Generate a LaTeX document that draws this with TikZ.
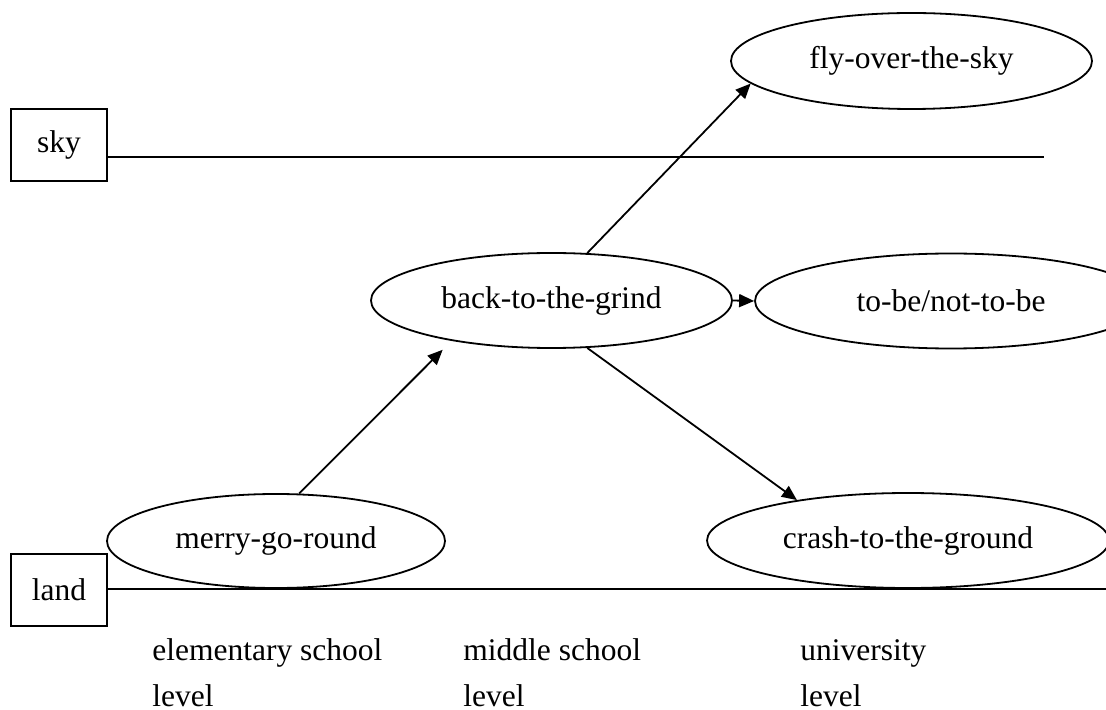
\documentclass[tikz,border=0pt]{standalone}
\usepackage{fontspec}
\setmainfont{Liberation Serif}
\usetikzlibrary{shapes.geometric,arrows.meta}
\tikzset{
	stage/.style={draw,ellipse,inner sep=0pt,line width=0.9pt},
	ground/.style={draw,rectangle,inner sep=0pt,minimum width=48pt,minimum height=36pt,line width=0.9pt},
	risearrow/.style={line width=0.9pt,-{Triangle[length=7.5pt,width=6.5pt]}},
}
\begin{document}
\begin{tikzpicture}[x=0.5pt,y=-0.5pt,font=\fontsize{15.75}{23}\selectfont]
	\useasboundingbox (0,0) rectangle (1106,710);
	\node[ground] (sky) at (59,145) {sky};
	\node[ground] (land) at (59,590) {land};
	\coordinate (skyend) at (1044,157);
	\coordinate (landend) at (1106,589);
	\draw[line width=0.9pt] (sky.east |- skyend) -- (skyend);
	\draw[line width=0.9pt] (land.east |- landend) -- (landend);
	\node[stage,minimum width=169pt,minimum height=47pt] (merry) at (276,541) {merry-go-round};
	\node[stage,minimum width=180.5pt,minimum height=47.5pt] (back) at (551.5,300.5) {back-to-the-grind};
	\node[stage,minimum width=180.5pt,minimum height=48pt] (fly) at (911.5,61) {fly-over-the-sky};
	\node[stage,minimum width=196pt,minimum height=47.5pt] (tobe) at (951,301) {to-be/not-to-be};
	\node[stage,minimum width=201pt,minimum height=47.5pt] (crash) at (908,540.5) {crash-to-the-ground};
	\draw[risearrow,shorten >=6.3pt] (merry.64) -- (back.202);
	\draw[risearrow] (back.53) -- (fly.188.7);
	\draw[risearrow] (back.east) -- (tobe.west);
	\draw[risearrow] (back.-53) -- (crash.160);
	\foreach \x/\t/\n in {152/elementary school/elem,463/middle school/mid,800/university/uni}
		\node[anchor=base west,align=left,inner sep=0pt] (\n) at (\x,706) {\t\\level};
\end{tikzpicture}
\end{document}
